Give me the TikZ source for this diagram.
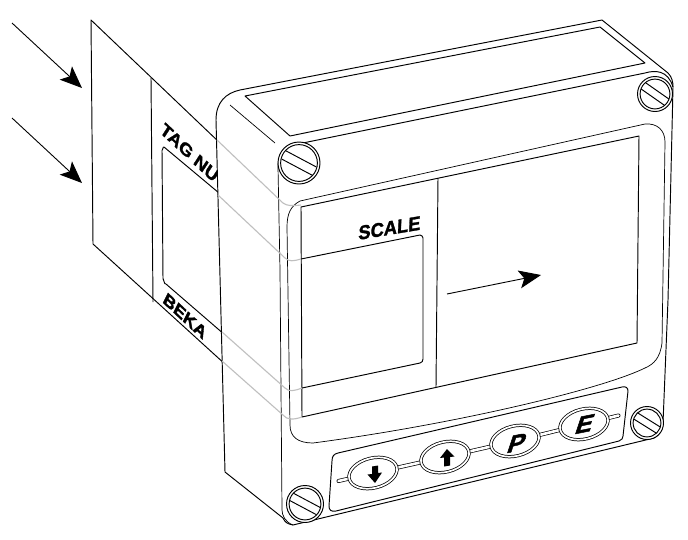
\documentclass[tikz,border=0pt]{standalone}
\usepackage{fontspec}
\setmainfont{Liberation Sans}
\newfontfamily\heavyfont[FakeBold=1.5]{Liberation Sans}
\newfontfamily\heavierfont[FakeBold=2]{Liberation Sans}
\usetikzlibrary{shapes.geometric,arrows.meta}
\pgfdeclarelayer{front}
\pgfsetlayers{main,front}
\tikzset{
  ink/.style={draw=black,line width=0.95pt,line join=round},
  thin ink/.style={draw=black,line width=0.7pt,line join=round},
  ghost/.style={draw=black!25,line width=1.1pt},
  bigarrow/.style={draw=black,line width=0.9pt,-{Stealth[length=22pt,width=18pt,inset=5pt]}},
  lbl/.style={inner sep=0pt,transform shape,text=black},
  keyst/.style={draw=black,ellipse,fill=white,line width=0.75pt,double=white,double distance=1.7pt,minimum width=49pt,minimum height=30pt,inner sep=0pt,rotate=14},
  keylbl/.style={lbl,font=\heavierfont\bfseries\fontsize{25}{25}\selectfont},
  bar/.style={draw=black,line width=0.7pt,double=white,double distance=2.6pt,line cap=round}
}
\newcommand{\myscrew}[4]{%
  \begin{scope}[shift={(#1,#2)}]
    \draw[ink,fill=white] (0,0) circle (#3pt);
    \draw[ink] (0,0) circle (#3pt-2.6pt);
    \begin{scope}[rotate=-#4]
      \draw[ink] (-#3*0.82,-#3*0.22) -- (#3*0.82,-#3*0.22);
      \draw[ink] (-#3*0.82,#3*0.22) -- (#3*0.82,#3*0.22);
    \end{scope}
  \end{scope}}
\begin{document}
\begin{tikzpicture}[x=1pt,y=-1pt]
\useasboundingbox (0,0) rectangle (688,539);
% arrows
\coordinate (a1s) at (12,23); \coordinate (a1e) at (82,88);
\coordinate (a2s) at (12,118); \coordinate (a2e) at (82,183);
\draw[bigarrow] (a1s) -- (a1e);
\draw[bigarrow] (a2s) -- (a2e);
% label sheet
\draw[ink] (220,143) -- (91,20) -- (93,244) -- (226,365);
\draw[ink] (151,78) -- (153,302);
\draw[ink] (225,198) -- (164,147) to[out=135,in=-70] (162,150) -- (163,279) to[out=88,in=-135] (166,284) -- (225,335);
\begin{scope}[shift={(162,127)},cm={0.88,-0.82,0.55,0.85,(0,0)}]
  \node[lbl,anchor=west,font=\heavyfont\bfseries\fontsize{16.5}{17}\selectfont] (tag) at (0,0) {TAG NU};
\end{scope}
\begin{scope}[shift={(185,316)},cm={1,-0.93,0.5,1.0,(0,0)}]
  \node[lbl,font=\heavierfont\bfseries\fontsize{14.4}{15}\selectfont] (beka) at (0,0) {BEKA};
\end{scope}
% housing
\draw[ink,fill=white] (216,120) .. controls (216,102) and (226,93) .. (240,90)
  -- (602,20) -- (668,73) .. controls (672,77) and (673,82) .. (673,87)
  -- (668,300) -- (663,423) .. controls (662,430) and (660,435) .. (654,438)
  -- (293,525) .. controls (287,524) and (285,522) .. (283,518)
  -- (225,472) -- (216,120) -- cycle;
% front face edge
\draw[ink] (278,167) .. controls (278,154) and (284,147) .. (293,145)
  -- (645,73) .. controls (655,70) and (668,70) .. (673,87);
\draw[thin ink] (278,167) -- (280,270) -- (282,510) .. controls (282,515) and (285,522) .. (293,525);
% top recess
\draw[ink] (245,96) -- (290,136) -- (645,63) -- (600,27) -- cycle;
\draw[thin ink] (230,105) -- (275,143);
% bezel
\draw[thin ink] (287,227) .. controls (287,213) and (291,206) .. (300,201)
  -- (645,124) .. controls (657,123) and (665,130) .. (665,142)
  -- (662,343) .. controls (660,358) and (654,364) .. (645,368)
  .. controls (600,390) and (450,425) .. (313,443)
  .. controls (298,443) and (290,437) .. (290,425) -- cycle;
% display
\draw[ink] (301,207) -- (639,136) -- (637,343) -- (302,417) -- cycle;
\draw[ink] (438,178) -- (436,387);
\draw[ink] (301,259) -- (420,235) to[out=-15,in=90] (423,238) -- (423,359) to[out=-90,in=10] (420,363) -- (302,388);
\begin{scope}[shift={(389.5,228)},cm={1,0.165,0.05,1.08,(0,0)}]
  \node[lbl,font=\heavyfont\bfseries\fontsize{18.3}{19}\selectfont] (scale) at (0,0) {SCALE};
\end{scope}
% ghost lines
\draw[ghost] (217,140) -- (283,203) .. controls (287,206) and (292,206) .. (301,205);
\draw[ghost] (218,195) -- (285,258) .. controls (289,262) and (294,261) .. (301,259);
\draw[ghost] (222,332) -- (285,388) .. controls (289,392) and (294,391) .. (302,388);
\draw[ghost] (222,361) -- (283,415) .. controls (287,420) and (293,420) .. (302,417);
% central arrow
\coordinate (a3s) at (447,294); \coordinate (a3e) at (541,275);
\draw[bigarrow] (a3s) -- (a3e);
% screws
\myscrew{299}{163}{21}{28}
\myscrew{655}{94}{17.5}{35}
\myscrew{305}{504}{18.5}{28}
\myscrew{647}{423}{16.5}{32}
% keypad
\draw[ink] (332,461) .. controls (332,456) and (334,454) .. (338,453)
  -- (622,387) .. controls (626,386) and (628,388) .. (628,391)
  -- (623,436) .. controls (623,438) and (622,440) .. (619,441)
  -- (336,511) .. controls (331,512) and (329,510) .. (329,506) -- cycle;
\begin{pgfonlayer}{front}
\node[keyst] (kdown) at (373,473) {};
\node[keyst] (kup) at (445,457) {};
\node[keyst] (kp) at (515,441) {};
\node[keyst] (ke) at (584,424) {};
\begin{scope}[shift={(517,443)},cm={1,0.2,0.33,1,(0,0)}]
  \node[keylbl] (lp) at (0,0) {P};
\end{scope}
\begin{scope}[shift={(585,424)},cm={1,0.2,0.33,1,(0,0)}]
  \node[keylbl] (le) at (0,0) {E};
\end{scope}
\fill[black] (372,466.5) -- (378,465.5) -- (378,473) -- (382,472.5) -- (375,483) -- (367.5,474.5) -- (372,474) -- cycle;
\fill[black] (444,466.5) -- (450,465.5) -- (450,457) -- (454.5,456.5) -- (447,449) -- (440,458) -- (444,457.5) -- cycle;
\end{pgfonlayer}
\coordinate (endl) at (338.5,481);
\coordinate (endr) at (618.5,415.5);
\draw[bar] (endl) -- (kdown);
\draw[bar] (kdown) -- (kup);
\draw[bar] (kup) -- (kp);
\draw[bar] (kp) -- (ke);
\draw[bar] (ke) -- (endr);
\end{tikzpicture}
\end{document}
